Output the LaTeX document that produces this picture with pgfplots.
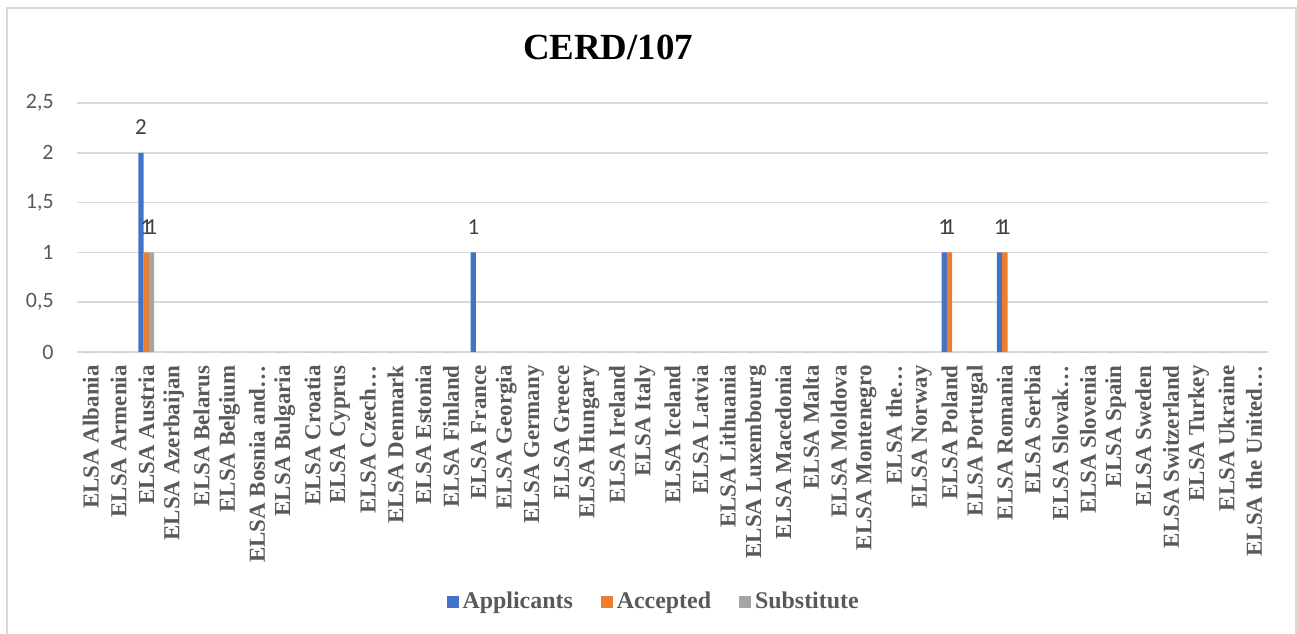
\documentclass[border=0pt]{standalone}
\usepackage{fontspec}
\setmainfont{Liberation Serif}
\newfontfamily\carlito{Carlito}
\usepackage{pgfplots}
\usepackage{pgfplotstable}
\pgfplotsset{compat=1.18}

\definecolor{appc}{HTML}{4472C4}
\definecolor{accc}{HTML}{ED7D31}
\definecolor{subc}{HTML}{A5A5A5}
\definecolor{gridc}{HTML}{D9D9D9}
\definecolor{txtc}{HTML}{595959}
\definecolor{lblc}{HTML}{404040}

% idx: category position, app/acc/sub: Applicants, Accepted, Substitute
\pgfplotstableread{
idx app acc sub
0  0 0 0
1  0 0 0
2  2 1 1
3  0 0 0
4  0 0 0
5  0 0 0
6  0 0 0
7  0 0 0
8  0 0 0
9  0 0 0
10 0 0 0
11 0 0 0
12 0 0 0
13 0 0 0
14 1 0 0
15 0 0 0
16 0 0 0
17 0 0 0
18 0 0 0
19 0 0 0
20 0 0 0
21 0 0 0
22 0 0 0
23 0 0 0
24 0 0 0
25 0 0 0
26 0 0 0
27 0 0 0
28 0 0 0
29 0 0 0
30 0 0 0
31 1 1 0
32 0 0 0
33 1 1 0
34 0 0 0
35 0 0 0
36 0 0 0
37 0 0 0
38 0 0 0
39 0 0 0
40 0 0 0
41 0 0 0
42 0 0 0
}\cerd

\begin{document}
\begin{tikzpicture}
% page and chart frame (1 px = 0.5bp, origin at top left)
\useasboundingbox (0,0) rectangle (648.5bp,-317bp);
\draw[gridc,line width=1bp] (3.5bp,-317bp) -- (3.5bp,-4bp) -- (648bp,-4bp) -- (648bp,-317bp);
\node[font=\bfseries\fontsize{18.5}{20}\selectfont] at (304bp,-23.5bp) {CERD/107};

\begin{axis}[
    at={(38.5bp,-176bp)}, anchor=south west,
    scale only axis,
    width=595.5bp, height=124.5bp,
    ybar=0pt, bar width=2.65bp,
    xmin=-0.5, xmax=42.5,
    ymin=0, ymax=2.5,
    enlargelimits=false,
    clip=false,
    axis line style={draw=none},
    major tick length=0pt,
    ymajorgrids,
    grid style={gridc, line width=0.8bp},
    ytick={0,0.5,1,1.5,2,2.5},
    xtick={0,...,42},
    /pgf/number format/use comma,
    /pgf/number format/assume math mode=true,
    yticklabel style={font=\carlito\fontsize{11}{12}\selectfont, text=txtc,
        anchor=east, inner sep=0pt, xshift=-11.5bp},
    xticklabel style={font=\bfseries\fontsize{11.5}{12}\selectfont, text=txtc,
        rotate=90, anchor=east, inner sep=0pt},
    xticklabel shift=6.5bp,
    xticklabels={ELSA Albania, ELSA Armenia, ELSA Austria, ELSA Azerbaijan,
        ELSA Belarus, ELSA Belgium, ELSA Bosnia and…, ELSA Bulgaria,
        ELSA Croatia, ELSA Cyprus, ELSA Czech…, ELSA Denmark, ELSA Estonia,
        ELSA Finland, ELSA France, ELSA Georgia, ELSA Germany, ELSA Greece,
        ELSA Hungary, ELSA Ireland, ELSA Italy, ELSA Iceland, ELSA Latvia,
        ELSA Lithuania, ELSA Luxembourg, ELSA Macedonia, ELSA Malta,
        ELSA Moldova, ELSA Montenegro, ELSA the…, ELSA Norway, ELSA Poland,
        ELSA Portugal, ELSA Romania, ELSA Serbia, ELSA Slovak…, ELSA Slovenia,
        ELSA Spain, ELSA Sweden, ELSA Switzerland, ELSA Turkey, ELSA Ukraine,
        ELSA the United…},
    nodes near coords={\pgfmathfloatifflags{\pgfplotspointmeta}{0}{}{\pgfmathprintnumber{\pgfplotspointmeta}}},
    every node near coord/.append style={font=\carlito\fontsize{11.5}{12}\selectfont,
        text=lblc, inner sep=0pt, yshift=9bp},
    legend columns=-1,
    legend style={at={(0.485,-1.004)}, anchor=center, draw=none,
        font=\bfseries\fontsize{12}{13}\selectfont, text=txtc,
        /tikz/every even column/.append style={column sep=12bp}},
    legend image code/.code={\path[#1] (0bp,-3bp) rectangle (6bp,3bp);},
]
\addplot[fill=appc, draw=none] table[x=idx, y=app] {\cerd};
\addplot[fill=accc, draw=none] table[x=idx, y=acc] {\cerd};
\addplot[fill=subc, draw=none] table[x=idx, y=sub] {\cerd};
\legend{Applicants, Accepted, Substitute}
\end{axis}
\end{tikzpicture}
\end{document}
